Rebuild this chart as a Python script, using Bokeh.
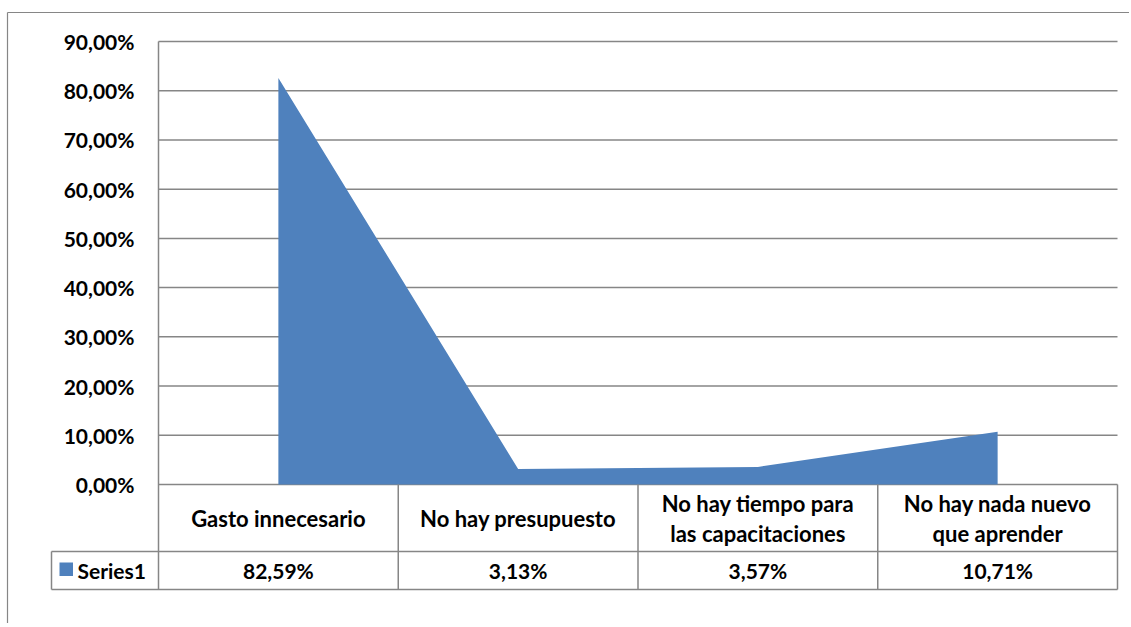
from bokeh.plotting import figure
from bokeh.models import Range1d, ColumnDataSource
from bokeh.core.properties import value
from bokeh.embed import file_html
from bokeh.resources import INLINE

# ---- data ----
categories = ["Gasto innecesario", "No hay presupuesto",
              "No hay tiempo para\nlas capacitaciones", "No hay nada nuevo\nque aprender"]
values = [82.59, 3.13, 3.57, 10.71]
series_name = "Series1"
y_ticks = [0, 10, 20, 30, 40, 50, 60, 70, 80, 90]
tick_labels = [f"{t:.2f}".replace(".", ",") + "%" for t in y_ticks]
value_labels = [f"{v:.2f}".replace(".", ",") + "%" for v in values]

# ---- style ----
BLUE = "#4F81BD"
GRAY = "#868686"
FONT = "Lato"
W, H = 1129, 623

n = len(categories)
y_top = y_ticks[-1]
# pixel calibration of the plot region (page pixels)
PL, PR, PT, PB = 158, 1117, 41, 484
yppu = (PB - PT) / y_top
xppu = (PR - PL) / n
def ydat(py):
    return (PB - py) / yppu
def xdat(px):
    return (px - PL) / xppu

row_sep = ydat(551)
table_bottom = ydat(589)
cell_left = xdat(51)

p = figure(width=W, height=H, output_backend="svg", toolbar_location=None,
           x_range=Range1d(xdat(0), xdat(W)), y_range=Range1d(ydat(H), ydat(0)),
           x_axis_type=None, y_axis_type=None, title=None,
           min_border_left=0, min_border_right=0, min_border_top=0, min_border_bottom=0)
p.outline_line_color = None
p.background_fill_color = "white"
p.border_fill_color = "white"
p.grid.visible = False

# outer chart border
p.segment(x0=[xdat(7), xdat(7)], y0=[ydat(12), ydat(12)], x1=[xdat(W), xdat(7)], y1=[ydat(12), ydat(H)],
          line_color=GRAY, line_width=1.2)

# gridlines at y ticks
p.segment(x0=[0] * len(y_ticks), y0=y_ticks, x1=[n] * len(y_ticks), y1=y_ticks,
          line_color=GRAY, line_width=1.5)

# y tick labels
p.text(x=[xdat(134)] * len(y_ticks), y=y_ticks, text=tick_labels, text_align="right",
       text_baseline="middle", text_font=value(FONT), text_font_size="21px",
       text_font_style="bold", text_color="black")

# area series
xs = [i + 0.5 for i in range(n)]
src = ColumnDataSource(dict(x=xs, y=values))
p.varea(x="x", y1=0, y2="y", source=src, fill_color=BLUE)

# data table lines
vx = list(range(n + 1))
p.segment(x0=vx, y0=[y_top] + [0] * n, x1=vx, y1=[table_bottom] * (n + 1),
          line_color=GRAY, line_width=1.5)
p.segment(x0=[cell_left, cell_left, cell_left], y0=[row_sep, table_bottom, row_sep],
          x1=[n, n, cell_left], y1=[row_sep, table_bottom, table_bottom],
          line_color=GRAY, line_width=1.5)

# data table texts
p.text(x=xs, y=[ydat(518)] * n, text=categories, text_align="center", text_baseline="middle",
       text_font=value(FONT), text_font_size="22px", text_font_style="bold", text_color="black",
       text_line_height=1.08)
p.text(x=xs, y=[ydat(570)] * n, text=value_labels, text_align="center", text_baseline="middle",
       text_font=value(FONT), text_font_size="21px", text_font_style="bold", text_color="black")

# legend key in the table
p.quad(left=[xdat(59)], right=[xdat(72.5)], top=[ydat(562)], bottom=[ydat(575.5)],
       fill_color=BLUE, line_color=None)
p.text(x=[xdat(77)], y=[ydat(570)], text=[series_name], text_align="left", text_baseline="middle",
       text_font=value(FONT), text_font_size="21px", text_font_style="bold", text_color="black")

open("out.html", "w").write(file_html(p, INLINE))
